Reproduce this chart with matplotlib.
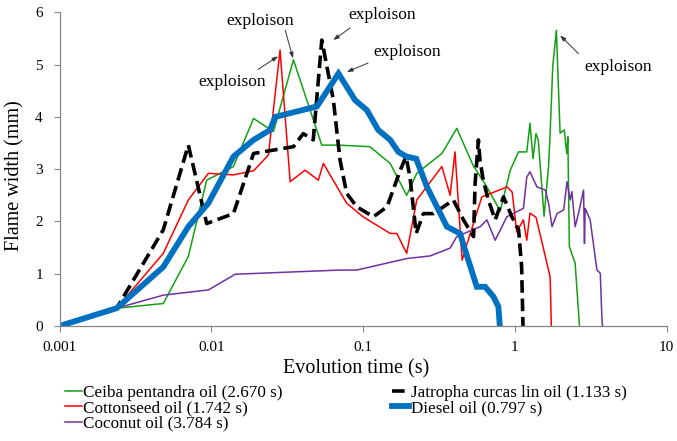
import numpy as np
import matplotlib
matplotlib.use("Agg")
import matplotlib.pyplot as plt

plt.rcParams["font.family"] = ["Liberation Serif", "DejaVu Serif"]

# evolution time (s) and flame width (mm)
ceiba_t = [0.001, 0.00238, 0.00483, 0.00706, 0.00933, 0.014, 0.019, 0.0257, 0.0348,
           0.0535, 0.0689, 0.111, 0.151, 0.194, 0.226, 0.331, 0.415, 0.53, 0.655,
           0.802, 0.934, 1.058, 1.20, 1.26, 1.32, 1.38, 1.43, 1.56, 1.67, 1.71, 1.78,
           1.88, 1.99, 2.12, 2.20, 2.24, 2.26, 2.29, 2.50, 2.67]
ceiba_w = [0, 0.34, 0.43, 1.33, 2.79, 3.05, 3.97, 3.72, 5.09,
           3.46, 3.46, 3.43, 3.11, 2.50, 2.92, 3.30, 3.78, 3.08, 2.66,
           2.20, 2.98, 3.33, 3.33, 3.88, 3.20, 3.68, 3.55, 2.10, 3.05, 3.68, 4.96,
           5.66, 3.69, 3.75, 3.30, 3.62, 2.66, 1.52, 1.20, 0]

jatropha_t = [0.001, 0.00238, 0.00483, 0.00706, 0.00933, 0.014, 0.019, 0.0348, 0.0404,
              0.047, 0.0535, 0.0638, 0.0706, 0.078, 0.091, 0.117, 0.144, 0.176, 0.192,
              0.204, 0.224, 0.25, 0.291, 0.339, 0.394, 0.459, 0.535, 0.548, 0.576,
              0.59, 0.62, 0.67, 0.743, 0.843, 0.957, 1.06, 1.11, 1.12, 1.133]
jatropha_w = [0, 0.34, 1.84, 3.46, 1.96, 2.15, 3.30, 3.43, 3.68,
              3.56, 5.47, 4.32, 3.17, 2.54, 2.28, 2.09, 2.28, 2.98, 3.24,
              2.85, 1.77, 2.15, 2.15, 2.28, 2.41, 2.03, 1.71, 2.73, 3.56,
              3.17, 2.79, 2.41, 2.03, 2.47, 2.09, 1.84, 1.13, 0.63, 0]

cotton_t = [0.001, 0.00238, 0.00483, 0.00706, 0.00957, 0.014, 0.019, 0.0238, 0.0284,
            0.0331, 0.0415, 0.0508, 0.0548, 0.078, 0.1, 0.151, 0.167, 0.194, 0.226,
            0.331, 0.375, 0.404, 0.45, 0.493, 0.607, 0.891, 0.962, 1.03, 1.14, 1.20,
            1.26, 1.38, 1.63, 1.71, 1.742]
cotton_w = [0, 0.34, 1.39, 2.41, 2.92, 2.89, 2.97, 3.27, 5.28,
            2.76, 2.98, 2.79, 3.11, 2.35, 2.09, 1.77, 1.77, 1.39, 2.41,
            3.05, 2.50, 3.33, 1.26, 1.64, 2.47, 2.66, 2.56, 1.80, 2.03, 1.64,
            2.16, 2.08, 1.20, 0.94, 0]

diesel_t = [0.001, 0.00238, 0.00483, 0.00706, 0.00957, 0.014, 0.019, 0.0244, 0.0264,
            0.0497, 0.0689, 0.0887, 0.106, 0.126, 0.151, 0.171, 0.194, 0.224, 0.264,
            0.307, 0.357, 0.436, 0.471, 0.562, 0.638, 0.724, 0.780, 0.797]
diesel_w = [0, 0.34, 1.13, 1.90, 2.35, 3.24, 3.56, 3.75, 4.00,
            4.20, 4.83, 4.32, 4.13, 3.75, 3.56, 3.33, 3.24, 3.20, 2.66,
            2.28, 1.90, 1.77, 1.45, 0.75, 0.75, 0.56, 0.37, 0]

coconut_t = [0.001, 0.00238, 0.00483, 0.00957, 0.0144, 0.0706, 0.091, 0.194, 0.277,
             0.375, 0.415, 0.592, 0.655, 0.743, 0.887, 1.14, 1.20, 1.26, 1.40, 1.59,
             1.67, 1.76, 1.90, 2.10, 2.21, 2.32, 2.38, 2.50, 2.63, 2.84, 2.88, 2.91,
             3.14, 3.48, 3.66, 3.75, 3.784]
coconut_w = [0, 0.34, 0.59, 0.69, 0.99, 1.07, 1.07, 1.29, 1.34,
             1.49, 1.71, 1.90, 2.03, 1.64, 2.09, 2.25, 2.85, 2.95, 2.66, 2.60,
             2.35, 1.90, 2.15, 2.22, 2.76, 2.41, 2.57, 1.90, 2.15, 2.60, 1.58, 2.25,
             2.03, 1.07, 1.01, 0.18, 0]

# "exploison" notes: label position, arrow start, arrow tip (time, width)
note_text_pos = [(0.0137, 4.67), (0.021, 5.83), (0.133, 5.94), (0.1945, 5.24), (4.83, 4.95)]
note_arrow_from = [(0.0204, 4.91), (0.0307, 5.66), (0.0822, 5.70), (0.108, 5.03), (2.63, 5.21)]
note_arrow_to = [(0.0276, 5.16), (0.0346, 5.12), (0.0636, 5.47), (0.0782, 4.86), (1.99, 5.56)]

x_ticks = [0.001, 0.01, 0.1, 1, 10]
x_tick_labels = ["0.001", "0.01", "0.1", "1", "10"]

fig = plt.figure(figsize=(6.77, 4.41), dpi=100)
ax = fig.add_axes([0.0879, 0.2608, 0.8966, 0.7112])

l_ceiba, = ax.plot(ceiba_t, ceiba_w, color="#13A013", lw=1.1,
                   label="Ceiba pentandra oil (2.670 s)")
l_cotton, = ax.plot(cotton_t, cotton_w, color="#FF0000", lw=1.1,
                    label="Cottonseed oil (1.742 s)")
l_coco, = ax.plot(coconut_t, coconut_w, color="#7030A0", lw=1.1,
                  label="Coconut oil (3.784 s)")
l_jat, = ax.plot(jatropha_t, jatropha_w, color="black", lw=2.6, dashes=(3.5, 1.6),
                 label="Jatropha curcas lin oil (1.133 s)")
l_dsl, = ax.plot(diesel_t, diesel_w, color="#0070C0", lw=4.2, solid_joinstyle="miter",
                 label="Diesel oil (0.797 s)")

ax.set_xscale("log")
ax.set_xlim(0.001, 10)
ax.set_ylim(0, 6)
ax.set_xticks(x_ticks)
ax.set_xticklabels(x_tick_labels)
ax.xaxis.set_minor_locator(matplotlib.ticker.NullLocator())
ax.set_yticks(range(0, 7))

for side in ["top", "right"]:
    ax.spines[side].set_visible(False)
for side in ["left", "bottom"]:
    ax.spines[side].set_color("#868686")
    ax.spines[side].set_linewidth(0.9)
ax.tick_params(axis="both", direction="out", length=4, color="#868686", labelsize=11)
ax.tick_params(axis="x", pad=7)
ax.tick_params(axis="y", pad=8)

ax.set_xlabel("Evolution time (s)", fontsize=14.5)
ax.set_ylabel("Flame width (mm)", fontsize=14.5)
ax.xaxis.set_label_coords(0.4886, -0.105)
ax.yaxis.set_label_coords(-0.057, 0.481)

arrow_kw = dict(arrowstyle="-|>,head_length=0.35,head_width=0.12", color="#333333",
                lw=0.7, shrinkA=0, shrinkB=0)
for (tx, ty), a0, a1 in zip(note_text_pos, note_arrow_from, note_arrow_to):
    ax.text(tx, ty, "exploison", ha="center", va="center", fontsize=12.5, clip_on=False)
    ax.annotate("", xy=a1, xytext=a0, arrowprops=arrow_kw, annotation_clip=False)

handles = [l_ceiba, l_jat, l_cotton, l_dsl, l_coco]
# order so a 2-column legend reads row by row
order = [0, 2, 4, 1, 3]
leg = fig.legend([handles[i] for i in order], [handles[i].get_label() for i in order],
                 ncol=2, loc="upper left", bbox_to_anchor=(0.096, 0.128),
                 frameon=False, fontsize=12.3, handlelength=1.0, handletextpad=0.08,
                 columnspacing=6.4, labelspacing=-0.03, borderaxespad=0, borderpad=0)

fig.savefig("out.png", dpi=100)
